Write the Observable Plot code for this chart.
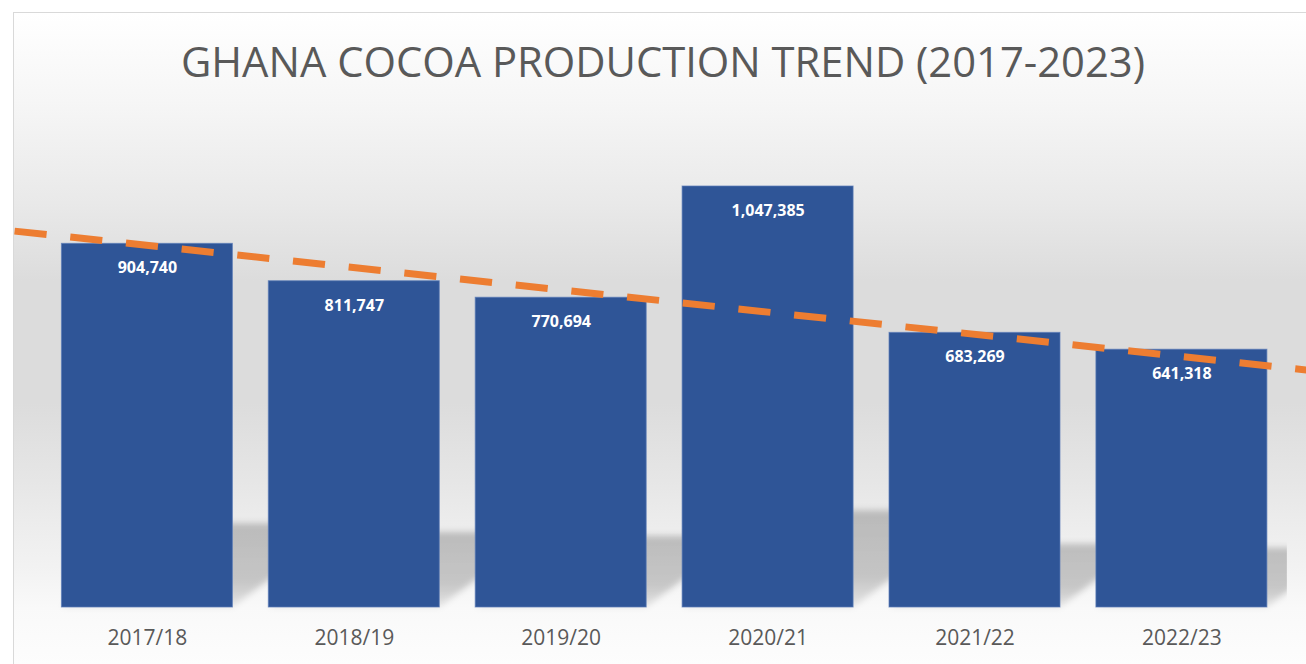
<!DOCTYPE html>
<html>
<head>
<meta charset="utf-8">
<script src="https://cdn.jsdelivr.net/npm/d3@7"></script>
<script src="https://cdn.jsdelivr.net/npm/@observablehq/plot@0.6"></script>
<style>
  html, body { margin: 0; padding: 0; background: #ffffff; }
  #wrap { position: relative; width: 1306px; height: 664px; overflow: hidden; background: #ffffff; font-family: "Open Sans", sans-serif; }
  #frame {
    position: absolute; left: 13px; top: 12px; width: 1320px; height: 670px;
    border-left: 1.5px solid #d9d9d9; border-top: 1.5px solid #d9d9d9; box-sizing: border-box;
    background: linear-gradient(to bottom,
      #ffffff 0px, #f6f6f6 88px, #e9e9e9 190px, #dcdcdc 268px, #dcdcdc 390px,
      #e6e6e6 468px, #ececec 508px, #f3f3f3 560px, #f9f9f9 595px, #fdfdfd 652px);
  }
  #title { position: absolute; left: 0; top: 0; width: 1306px; height: 100px; }
  #chart { position: absolute; left: 0; top: 100px; width: 1306px; height: 564px; }
</style>
</head>
<body>
<div id="wrap">
  <div id="frame"></div>
  <div id="title">
    <svg width="1306" height="100" xmlns="http://www.w3.org/2000/svg">
      <text x="663" y="77" text-anchor="middle" font-family="Open Sans, sans-serif" font-size="42" fill="#595959"
            textLength="964" lengthAdjust="spacingAndGlyphs">GHANA COCOA PRODUCTION TREND (2017-2023)</text>
    </svg>
  </div>
  <div id="chart"></div>
</div>
<script>
// ---- data ----
const seasons = ["2017/18", "2018/19", "2019/20", "2020/21", "2021/22", "2022/23"];
const production = [904740, 811747, 770694, 1047385, 683269, 641318];
// dashed trend line as drawn in the reference (position along the season axis, value)
const trendPositions = [0.358, 6.602];
const trendValues = [936400, 590900];

const data = seasons.map((s, k) => ({season: s, i: k + 1, value: production[k]}));
const trend = trendPositions.map((p, k) => ({i: p, value: trendValues[k]}));

const W = 1306, H = 564;
const step = 206.9, firstCenter = 146.9, halfBar = 171 / step / 2;
const fmt = d3.format(",");

// perspective shadow behind bars (uses Plot's scales)
function shadowMark(index, scales) {
  const x = scales.x, y = scales.y;
  const g = d3.create("svg:g");
  const defs = g.append("defs");
  defs.append("filter").attr("id", "shBlur")
    .attr("x", "-20%").attr("y", "-40%").attr("width", "140%").attr("height", "180%")
    .append("feGaussianBlur").attr("stdDeviation", 3);
  const grad = defs.append("linearGradient").attr("id", "shGrad")
    .attr("x1", 0).attr("y1", 0).attr("x2", 0).attr("y2", 1);
  grad.append("stop").attr("offset", "0%").attr("stop-color", "#000").attr("stop-opacity", 0.21);
  grad.append("stop").attr("offset", "70%").attr("stop-color", "#000").attr("stop-opacity", 0.19);
  grad.append("stop").attr("offset", "100%").attr("stop-color", "#000").attr("stop-opacity", 0.08);
  defs.append("clipPath").attr("id", "shClip").append("rect")
    .attr("x", 0).attr("y", -1000).attr("width", x(data.length + 0.5) + 2).attr("height", 3000);
  g.attr("clip-path", "url(#shClip)");
  const inner = g.append("g").attr("filter", "url(#shBlur)");
  for (const d of data) {
    const xl = x(d.i - halfBar), xr = x(d.i + halfBar);
    const base = y(0), top = y(d.value * 0.23);
    const s = (base - top) / 0.75;
    inner.append("path").attr("fill", "url(#shGrad)").attr("d",
      `M${xl},${base}L${xr},${base}L${xr + s},${top}L${xl + s},${top}Z`);
  }
  return g.node();
}

const plot = Plot.plot({
  width: W,
  height: H,
  marginLeft: 0,
  marginRight: 0,
  marginTop: 507 - 1200000 * 421 / 1047385,
  marginBottom: H - 507,
  style: {background: "transparent", fontFamily: "Open Sans, sans-serif", color: "#595959", overflow: "visible"},
  x: {type: "linear", domain: [1 - firstCenter / step, 1 + (W - firstCenter) / step], axis: null, label: null},
  y: {domain: [0, 1200000], axis: null, label: null},
  marks: [
    shadowMark,
    Plot.rectY(data, {
      x1: d => d.i - halfBar, x2: d => d.i + halfBar, y: "value",
      fill: "#2F5597", stroke: "#5b7cb8", strokeWidth: 1, strokeOpacity: 0.7
    }),
    Plot.line(trend, {
      x: "i", y: "value", stroke: "#ED7D31", strokeWidth: 7,
      strokeDasharray: "32.2,23.8", strokeLinecap: "butt"
    }),
    Plot.text(data, {
      x: "i", y: "value", text: d => fmt(d.value), dy: 24.5,
      fill: "white", fontWeight: "bold", fontSize: 16, lineAnchor: "middle"
    }),
    Plot.axisX(data.map(d => d.i), {
      tickFormat: i => seasons[i - 1], tickSize: 0, tickPadding: 22.5, fontSize: 21, label: null
    })
  ]
});
document.getElementById("chart").appendChild(plot);
</script>
</body>
</html>
